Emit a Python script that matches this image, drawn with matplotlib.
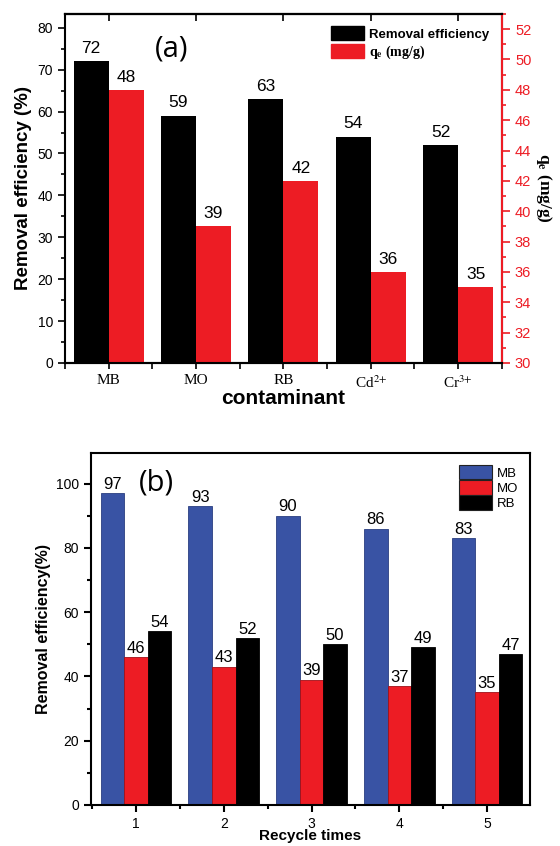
import numpy as np
import matplotlib
matplotlib.use("Agg")
import matplotlib.pyplot as plt
from matplotlib.ticker import MultipleLocator
from matplotlib.patches import Patch

plt.rcParams["mathtext.fontset"] = "stix"

# panel (a)
contaminants = ["MB", "MO", "RB", "Cd$^{2{+}}$", "Cr$^{3{+}}$"]
removal_a = [72, 59, 63, 54, 52]
qe = [48, 39, 42, 36, 35]

# panel (b)
cycles = [1, 2, 3, 4, 5]
mb = [97, 93, 90, 86, 83]
mo = [46, 43, 39, 37, 35]
rb = [54, 52, 50, 49, 47]

BLACK = "#000000"
RED = "#ed1c24"
BLUE = "#3953a4"
SANS = "Liberation Sans"
SERIF = "Liberation Serif"

fig = plt.figure(figsize=(5.6, 8.46), dpi=100)

# ---------- (a) ----------
ax = fig.add_axes([0.116, 0.571, 0.780, 0.4125])
ax2 = ax.twinx()
x = np.arange(len(contaminants))
w = 0.4
ax.bar(x - w / 2, removal_a, w, color=BLACK)
ax2.bar(x + w / 2, qe, w, color=RED)
ax.set_ylim(0, 83.3)
ax2.set_ylim(30, 53)
ax.set_xlim(-0.5, 4.5)
for xi, v in zip(x, removal_a):
    ax.text(xi - w / 2, v + 1.3, str(v), ha="center", va="bottom", fontsize=12.5, family=SANS)
for xi, v in zip(x, qe):
    ax2.text(xi + w / 2, v + 0.35, str(v), ha="center", va="bottom", fontsize=12.5, family=SANS)

ax.set_xticks(x)
ax.set_xticklabels(contaminants, family=SERIF, fontsize=11)
ax.xaxis.set_minor_locator(MultipleLocator(0.5))
ax.yaxis.set_major_locator(MultipleLocator(10))
ax.yaxis.set_minor_locator(MultipleLocator(5))
ax2.yaxis.set_major_locator(MultipleLocator(2))
ax2.yaxis.set_minor_locator(MultipleLocator(1))
ax.tick_params(axis="y", labelsize=10, direction="out", length=5, width=1.2)
ax.tick_params(axis="y", which="minor", length=3, width=1.2)
ax.tick_params(axis="x", which="both", direction="out", length=4, width=1.2, pad=4)
for lab in ax.get_yticklabels():
    lab.set_family(SANS)
ax2.tick_params(axis="y", which="both", colors=RED, labelsize=10.5, direction="out", width=1.2)
ax2.tick_params(axis="y", which="major", length=6)
ax2.tick_params(axis="y", which="minor", length=3)
for lab in ax2.get_yticklabels():
    lab.set_family(SANS)
top = ax2.secondary_xaxis("top")
top.set_xticks(x)
top.tick_params(direction="in", length=5, width=1.2, labeltop=False)
top.spines["top"].set_linewidth(1.5)
for s in ax.spines.values():
    s.set_linewidth(1.5)
ax2.spines["right"].set_color(RED)
ax2.spines["right"].set_linewidth(1.5)
ax2.spines["left"].set_visible(False)
ax2.spines["top"].set_linewidth(1.5)
ax2.spines["bottom"].set_linewidth(1.5)

ax.set_ylabel("Removal efficiency (%)", fontsize=13.5, fontweight="bold", family=SANS, labelpad=4)
ax.set_xlabel("contaminant", fontsize=15, fontweight="bold", family=SANS, labelpad=-1)
ax2.set_ylabel("q$_\\mathbf{e}$ (mg/g)", fontsize=12.5, fontweight="bold", family=SERIF,
               rotation=270, labelpad=16)
ax.text(0.206, 0.9, "(a)", transform=ax.transAxes, fontsize=21, family="Open Sans",
        ha="left", va="center")

h1 = Patch(facecolor=BLACK, edgecolor=BLACK)
h2 = Patch(facecolor=RED, edgecolor=RED)
leg = ax.legend([h1, h2], ["Removal efficiency", "q$_\\mathbf{e}$ (mg/g)"], loc="upper right",
                frameon=False, handlelength=2.4, handleheight=1.1, borderaxespad=0.5,
                handletextpad=0.35, labelspacing=0.2)
leg.get_texts()[0].set_family(SANS)
leg.get_texts()[0].set_fontweight("bold")
leg.get_texts()[0].set_fontsize(9.5)
leg.get_texts()[1].set_family(SERIF)
leg.get_texts()[1].set_fontweight("bold")
leg.get_texts()[1].set_fontsize(10)

# ---------- (b) ----------
bx = fig.add_axes([0.1625, 0.0485, 0.784, 0.416])
xb = np.array(cycles, dtype=float)
wb = 0.268
bx.bar(xb - wb, mb, wb, color=BLUE, edgecolor="#2a3e80", linewidth=0.6, label="MB")
bx.bar(xb, mo, wb, color=RED, edgecolor="#a01018", linewidth=0.6, label="MO")
bx.bar(xb + wb, rb, wb, color=BLACK, edgecolor=BLACK, linewidth=0.6, label="RB")
for series, off in ((mb, -wb), (mo, 0), (rb, wb)):
    for xi, v in zip(xb, series):
        bx.text(xi + off, v + 0.4, str(v), ha="center", va="bottom", fontsize=12, family=SANS)
bx.set_xlim(0.487, 5.49)
bx.set_ylim(0, 109.5)
bx.set_xticks(cycles)
bx.xaxis.set_minor_locator(MultipleLocator(0.5))
bx.yaxis.set_major_locator(MultipleLocator(20))
bx.yaxis.set_minor_locator(MultipleLocator(10))
bx.tick_params(axis="both", which="major", direction="out", length=5, width=1.5, labelsize=10)
bx.tick_params(axis="both", which="minor", direction="out", length=3, width=1.5)
for lab in bx.get_xticklabels() + bx.get_yticklabels():
    lab.set_family(SANS)
for s in bx.spines.values():
    s.set_linewidth(1.5)
bx.set_ylabel("Removal efficiency(%)", fontsize=11.5, fontweight="bold", family=SANS, labelpad=4)
bx.set_xlabel("Recycle times", fontsize=11, fontweight="bold", family=SANS, labelpad=-1)
bx.text(0.148, 0.915, "(b)", transform=bx.transAxes, fontsize=21, family="Open Sans",
        ha="center", va="center")
hb = [Patch(facecolor=BLUE, edgecolor="#222222", linewidth=0.8),
      Patch(facecolor=RED, edgecolor="#222222", linewidth=0.8),
      Patch(facecolor=BLACK, edgecolor="#222222", linewidth=0.8)]
lb = bx.legend(hb, ["MB", "MO", "RB"], loc="upper right", frameon=False,
               handlelength=2.5, handleheight=1.3, labelspacing=0.05, handletextpad=0.35,
               borderaxespad=0.5, prop={"family": SANS, "size": 9.5})

fig.savefig("out.png", dpi=100)
